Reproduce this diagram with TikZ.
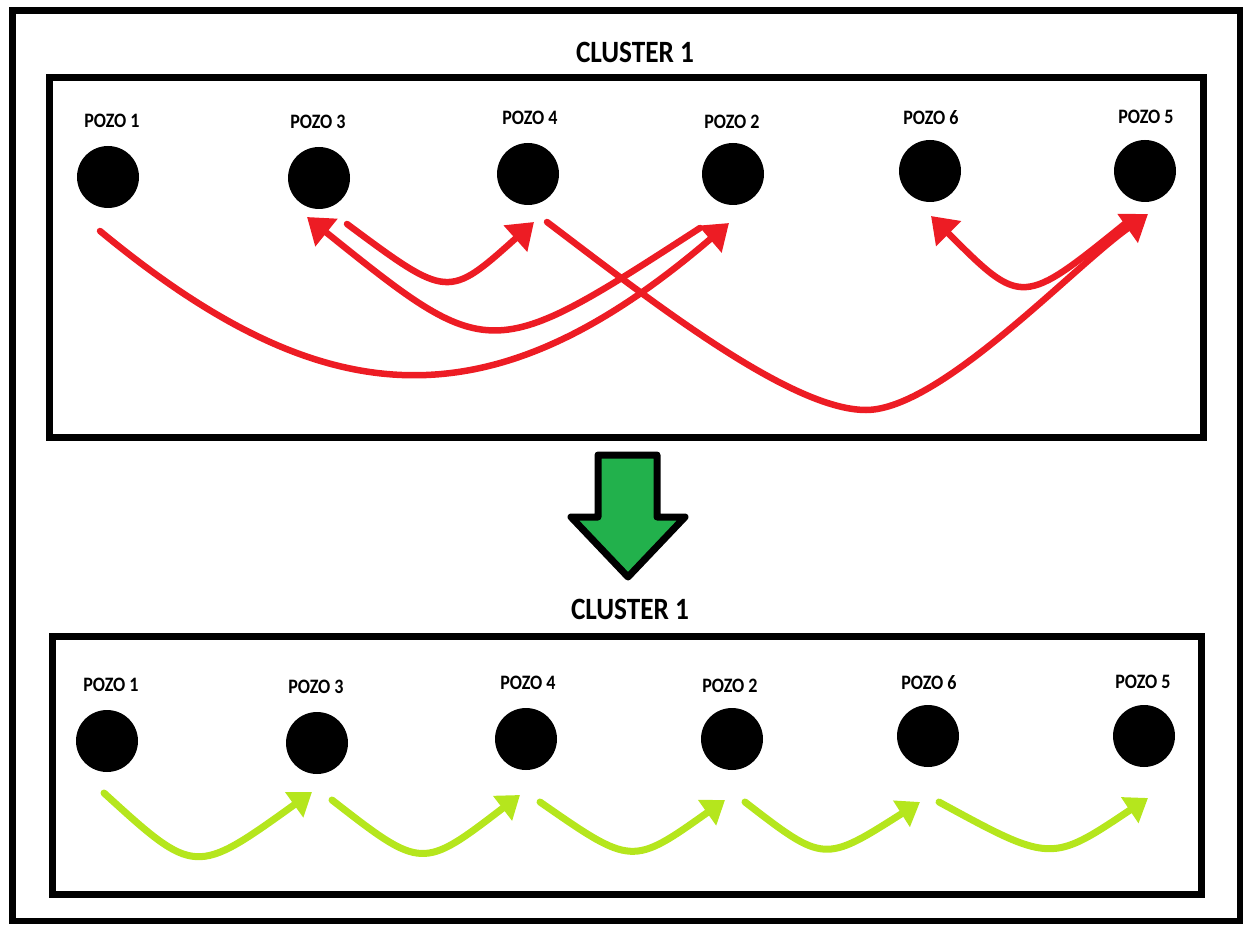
\documentclass[tikz,border=0pt]{standalone}
\usepackage{fontspec}
\usetikzlibrary{arrows.meta}
\newfontfamily\calfont[FakeStretch=0.88]{Carlito}
\definecolor{paintred}{RGB}{237,28,36}
\definecolor{paintlime}{RGB}{181,230,29}
\definecolor{paintgreen}{RGB}{34,177,76}
\begin{document}
\begin{tikzpicture}[x=1pt,y=-1pt,
  frame/.style={draw=black, line width=7pt},
  well/.style={circle, fill=black, minimum size=62pt, inner sep=0pt},
  wellname/.style={font=\calfont\bfseries\fontsize{20.5}{20.5}\selectfont, inner sep=0pt},
  clustertitle/.style={font=\calfont\bfseries\fontsize{31}{31}\selectfont, inner sep=0pt},
  oldroute/.style={draw=paintred, line width=6.5pt, line cap=round,
    -{Triangle[length=25pt,width=34pt]}},
  newroute/.style={draw=paintlime, line width=7pt, line cap=round,
    -{Triangle[length=22pt,width=30pt]}},
  bigarrow/.style={draw=black, fill=paintgreen, line width=7pt, line join=round},
]
\useasboundingbox (0,0) rectangle (1243,925);

% outer frame and the two cluster boxes
\draw[frame, line width=6.5pt] (12.5,10.5) rectangle (1240.5,921);
\draw[frame] (49,78) rectangle (1203,437);
\draw[frame] (52,636) rectangle (1201,894);

% ---------- upper cluster: original order ----------
\node[clustertitle] (ttop) at (635,52) {CLUSTER 1};

\node[well] (t1) at (108,177) {};
\node[well] (t3) at (319,178) {};
\node[well] (t4) at (528,174) {};
\node[well] (t2) at (733,174) {};
\node[well] (t6) at (930,171) {};
\node[well] (t5) at (1145,171) {};

\node[wellname] (lt1) at (112,121) {POZO 1};
\node[wellname] (lt3) at (318,122) {POZO 3};
\node[wellname] (lt4) at (530,118) {POZO 4};
\node[wellname] (lt2) at (732,122) {POZO 2};
\node[wellname] (lt6) at (931,118) {POZO 6};
\node[wellname] (lt5) at (1146,117) {POZO 5};

% route ends below the wells
\coordinate (o1s) at (100,231);  \coordinate (o1e) at (729,223);
\coordinate (o2s) at (700,228);  \coordinate (o2e) at (307,217);
\coordinate (o3s) at (347,224);  \coordinate (o3e) at (534,222);
\coordinate (o4s) at (547,222);  \coordinate (o4m) at (866,410);
\coordinate (o4e) at (1148,214);
\coordinate (o5s) at (1127,222); \coordinate (o5e) at (931,216);

\draw[oldroute] (o1s) .. controls (324,416) and (490,428) .. (o1e);
\draw[oldroute] (o2s) .. controls (490,364) and (490,364) .. (o2e);
\draw[oldroute] (o3s) .. controls (448,299) and (448,299) .. (o3e);
\draw[oldroute] (o4s) .. controls (650,300) and (790,410) .. (o4m)
                      .. controls (940,410) and (1073,267) .. (o4e);
\draw[oldroute] (o5s) .. controls (1022,307) and (1022,307) .. (o5e);

% ---------- transition arrow ----------
\draw[bigarrow] (598,455) -- (657,455) -- (657,517) -- (685,517)
  -- (628,577) -- (571,517) -- (598,517) -- cycle;

% ---------- lower cluster: new order ----------
\node[clustertitle] (tbot) at (630,609) {CLUSTER 1};

\node[well] (b1) at (107,741) {};
\node[well] (b3) at (317,743) {};
\node[well] (b4) at (526,739) {};
\node[well] (b2) at (732,739) {};
\node[well] (b6) at (928,736) {};
\node[well] (b5) at (1144,736) {};

\node[wellname] (lb1) at (111,685) {POZO 1};
\node[wellname] (lb3) at (316,687) {POZO 3};
\node[wellname] (lb4) at (528,683) {POZO 4};
\node[wellname] (lb2) at (730,686) {POZO 2};
\node[wellname] (lb6) at (929,683) {POZO 6};
\node[wellname] (lb5) at (1143,682) {POZO 5};

\coordinate (n1s) at (104,793);  \coordinate (n1e) at (312,792);
\coordinate (n2s) at (332,800);  \coordinate (n2e) at (520,795);
\coordinate (n3s) at (540,802);  \coordinate (n3e) at (725,800);
\coordinate (n4s) at (745,802);  \coordinate (n4e) at (920,802);
\coordinate (n5s) at (939,802);  \coordinate (n5e) at (1148,798);

\draw[newroute] (n1s) .. controls (195,876) and (195,876) .. (n1e);
\draw[newroute] (n2s) .. controls (422,870) and (422,870) .. (n2e);
\draw[newroute] (n3s) .. controls (632,866) and (632,866) .. (n3e);
\draw[newroute] (n4s) .. controls (824,863) and (824,863) .. (n4e);
\draw[newroute] (n5s) .. controls (1051,863) and (1051,863) .. (n5e);
\end{tikzpicture}
\end{document}
